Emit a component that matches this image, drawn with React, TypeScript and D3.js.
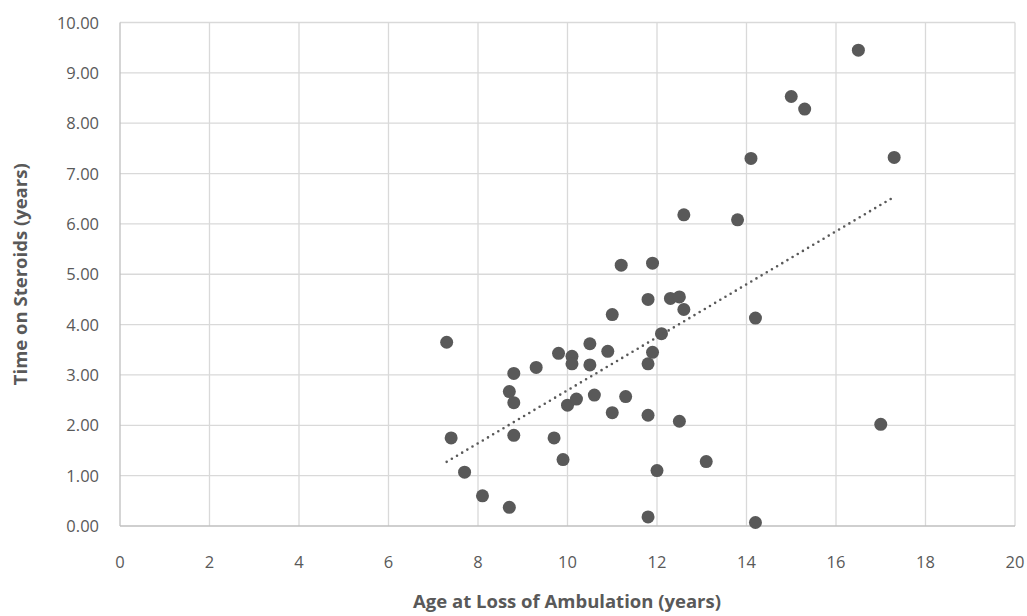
import React from 'react';
import { scaleLinear, range, mean } from 'd3';

const ageLoss = [
  7.3, 7.4, 7.7, 8.1, 8.7, 8.7, 8.8, 8.8, 8.8, 9.3, 9.7, 9.8, 9.9, 10.0, 10.1, 10.1,
  10.2, 10.5, 10.5, 10.6, 10.9, 11.0, 11.0, 11.2, 11.3, 11.8, 11.8, 11.8, 11.8, 11.9,
  11.9, 12.0, 12.1, 12.3, 12.5, 12.5, 12.6, 12.6, 13.1, 13.8, 14.1, 14.2, 14.2, 15.0,
  15.3, 16.5, 17.0, 17.3,
];
const steroidYears = [
  3.65, 1.75, 1.07, 0.6, 0.37, 2.67, 3.03, 2.45, 1.8, 3.15, 1.75, 3.43, 1.32, 2.4, 3.37, 3.22,
  2.52, 3.62, 3.2, 2.6, 3.47, 4.2, 2.25, 5.18, 2.57, 4.5, 3.22, 2.2, 0.18, 5.22,
  3.45, 1.1, 3.82, 4.52, 4.55, 2.08, 4.3, 6.18, 1.28, 6.08, 7.3, 4.13, 0.07, 8.53,
  8.28, 9.45, 2.02, 7.32,
];
const xTicks = range(0, 21, 2);
const yTicks = range(0, 10.01, 1);

const font = 'Open Sans, sans-serif';

const App = () => {
  const width = 1027;
  const height = 616;
  const x = scaleLinear().domain([0, 20]).range([120, 1015]);
  const y = scaleLinear().domain([0, 10]).range([526, 22.5]);

  // linear trendline (least squares)
  const mx = mean(ageLoss) as number;
  const my = mean(steroidYears) as number;
  let sxy = 0;
  let sxx = 0;
  ageLoss.forEach((v, i) => {
    sxy += (v - mx) * (steroidYears[i] - my);
    sxx += (v - mx) * (v - mx);
  });
  const slope = sxy / sxx;
  const icpt = my - slope * mx;
  const x0 = Math.min(...ageLoss);
  const x1 = Math.max(...ageLoss);

  return (
    <svg width={width} height={height} style={{ position: 'absolute', left: 0, top: 0 }}>
      <rect width={width} height={height} fill="#fff" />
      {xTicks.slice(1).map((t) => (
        <line key={'gx' + t} x1={x(t)} x2={x(t)} y1={y(0)} y2={y(10)} stroke="#d9d9d9" strokeWidth={1.3} />
      ))}
      {yTicks.slice(1).map((t) => (
        <line key={'gy' + t} x1={x(0)} x2={x(20)} y1={y(t)} y2={y(t)} stroke="#d9d9d9" strokeWidth={1.3} />
      ))}
      <line x1={x(0)} x2={x(0)} y1={y(0)} y2={y(10)} stroke="#bfbfbf" strokeWidth={1.3} />
      <line x1={x(0)} x2={x(20)} y1={y(0)} y2={y(0)} stroke="#bfbfbf" strokeWidth={1.3} />
      {xTicks.map((t) => (
        <text key={'tx' + t} x={x(t)} y={568} textAnchor="middle" fontFamily={font} fontSize={16.5} fill="#595959">
          {t}
        </text>
      ))}
      {yTicks.map((t) => (
        <text key={'ty' + t} x={99} y={y(t) + 6} textAnchor="end" fontFamily={font} fontSize={16.5} fill="#595959">
          {t.toFixed(2)}
        </text>
      ))}
      {ageLoss.map((v, i) => (
        <circle key={'p' + i} cx={x(v)} cy={y(steroidYears[i])} r={6.5} fill="#595959" />
      ))}
      <line
        x1={x(x0)}
        y1={y(icpt + slope * x0)}
        x2={x(x1)}
        y2={y(icpt + slope * x1)}
        stroke="#595959"
        strokeWidth={2.6}
        strokeDasharray="0 6"
        strokeLinecap="round"
      />
      <text x={567} y={608} textAnchor="middle" fontFamily={font} fontSize={18.5} fontWeight="bold" fill="#595959">
        Age at Loss of Ambulation (years)
      </text>
      <text
        transform={`translate(27,${y(5)}) rotate(-90)`}
        textAnchor="middle"
        fontFamily={font}
        fontSize={18.5}
        fontWeight="bold"
        fill="#595959"
      >
        Time on Steroids (years)
      </text>
    </svg>
  );
};

export default App;
